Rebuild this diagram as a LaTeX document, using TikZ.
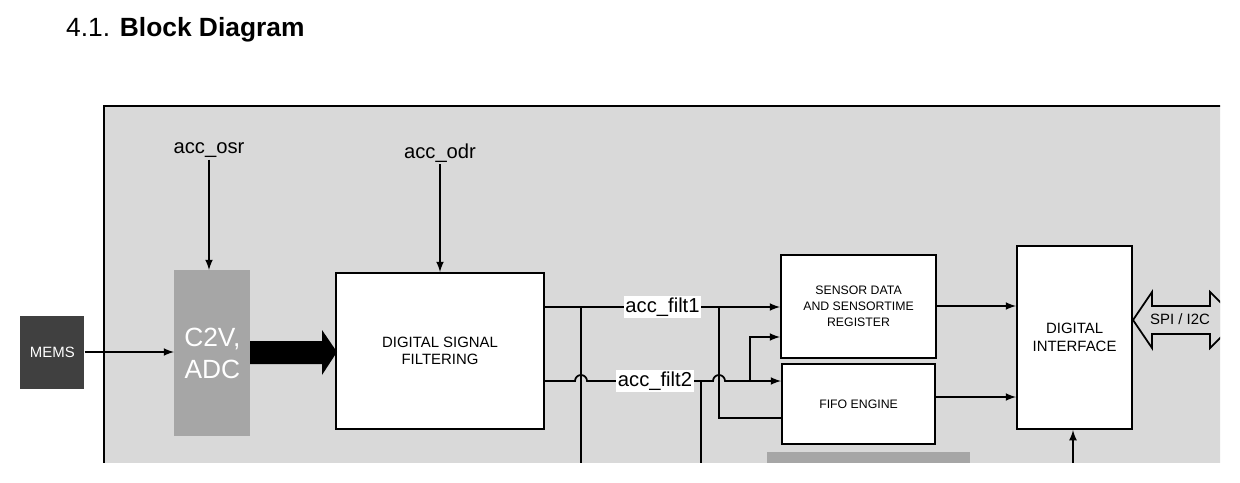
\documentclass[tikz,border=0pt]{standalone}
\usepackage{fontspec}
\setmainfont{Liberation Sans}
\usepackage{tikz}
\definecolor{bggray}{HTML}{D9D9D9}
\definecolor{adcgray}{HTML}{A6A6A6}
\definecolor{memsgray}{HTML}{404040}
\tikzset{
	blk/.style={draw, line width=1.2pt, fill=white, align=center, font=\fontsize{8.5}{10}\selectfont},
	sig/.style={->, >=latex, line width=1pt},
	wire/.style={line width=1pt},
	lbl/.style={font=\fontsize{11.5}{13}\selectfont, inner sep=1pt}
}
\begin{document}
\begin{tikzpicture}[x=0.02cm, y=-0.02cm]
	\useasboundingbox (0,0) rectangle (1240,483);
	\node[anchor=west, font=\fontsize{15}{17}\selectfont] (title) at (60,30) {4.1. \textbf{Block Diagram}};
	\begin{scope}
	\clip (0,100) rectangle (1220,462);
	\fill[bggray] (104,106) rectangle (1230,470);
	\draw[line width=1pt] (104,470) -- (104,106) -- (1230,106);
	
	% sensor and converter
	\node[fill=memsgray, minimum width=1.28cm, minimum height=1.46cm, text=white, font=\fontsize{8.5}{10}\selectfont, anchor=north west] (mems) at (20,316) {MEMS};
	\node[fill=adcgray, minimum width=1.52cm, minimum height=3.32cm, text=white, align=center, font=\fontsize{15}{18}\selectfont, anchor=north west] (adc) at (174,270) {C2V,\\ADC};
	\node[lbl] (osr) at (209,150) {acc\_osr};
	\coordinate (osrin) at (209,270);
	\draw[sig] (osr) -- (osrin);
	\draw[sig] (mems.east |- 0,352) -- (adc.west |- 0,352);
	
	% filter block
	\node[blk, minimum width=4.16cm, minimum height=3.12cm, anchor=north west] (dsf) at (335,272) {DIGITAL SIGNAL\\FILTERING};
	\node[lbl] (odr) at (440,153) {acc\_odr};
	\draw[sig] (odr) -- (dsf.north -| odr);
	\fill (250,341) -- (322,341) -- (322,330) -- (337,352) -- (322,375) -- (322,364) -- (250,364) -- cycle;
	
	% register blocks
	\node[blk, font=\fontsize{7}{9}\selectfont, minimum width=3.1cm, minimum height=2.06cm, anchor=north west] (reg) at (780,254) {SENSOR DATA\\AND SENSORTIME\\REGISTER};
	\node[blk, font=\fontsize{7}{9}\selectfont, minimum width=3.06cm, minimum height=1.6cm, anchor=north west] (fifo) at (781,363) {FIFO ENGINE};
	\node[blk, minimum width=2.3cm, minimum height=3.66cm, anchor=north west] (dif) at (1016,245) {DIGITAL\\INTERFACE};
	
	% filter outputs
	\draw[sig] (dsf.east |- 0,307) -- (reg.west |- 0,307) node[lbl, fill=white, pos=0.5] (filt1) {acc\_filt1};
	\draw[sig] (dsf.east |- 0,381) -- (575,381) arc (180:0:0.12cm) -- (713,381) arc (180:0:0.12cm) -- (fifo.west |- 0,381);
	\node[lbl, fill=white] (filt2) at (655,381) {acc\_filt2};
	\draw[wire] (581,307) -- (581,470);
	\draw[wire] (701,381) -- (701,470);
	\draw[wire] (719,307) -- (719,418) -- (fifo.west |- 0,418);
	\draw[sig] (750,381) -- (750,337) -- (reg.west |- 0,337);
	
	% to interface
	\draw[sig] (reg.east |- 0,306) -- (dif.west |- 0,306);
	\draw[sig] (fifo.east |- 0,397) -- (dif.west |- 0,397);
	\coordinate (busin) at (1073,470);
	\draw[sig] (busin) -- (dif.south -| busin);
	\fill[adcgray] (767,452) rectangle (970,470);
	
	% bus
	\draw[line width=1pt, fill=bggray] (1133,320) -- (1152,292) -- (1152,306) -- (1210,306) -- (1210,292) -- (1238,320) -- (1210,348) -- (1210,334) -- (1152,334) -- (1152,348) -- cycle;
	\node[font=\fontsize{8.5}{10}\selectfont] (spi) at (1180,319) {SPI / I2C};
	\end{scope}
\end{tikzpicture}
\end{document}
